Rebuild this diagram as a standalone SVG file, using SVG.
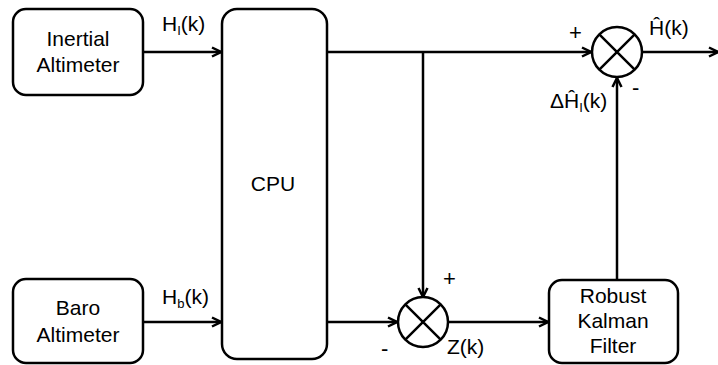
<svg xmlns="http://www.w3.org/2000/svg" width="718" height="365" viewBox="0 0 718 365">
<style>
.box{fill:#fff;stroke:#000;stroke-width:2.5}
.ln{fill:none;stroke:#000;stroke-width:2.5}
text{font-family:Arial,"Liberation Sans",sans-serif;font-size:21px;fill:#000}
.c{text-anchor:middle}
.sub{font-size:13px}
.sg{font-size:22px}
</style>
<defs>
<marker id="ah" viewBox="0 0 12 12" refX="11" refY="6" markerWidth="12" markerHeight="12" markerUnits="userSpaceOnUse" orient="auto">
<path d="M2,1.5 L11,6 L2,10.5" fill="none" stroke="#000" stroke-width="2.5"/>
</marker>
</defs>
<g id="connectors">
<path class="ln" d="M143,52 H221" marker-end="url(#ah)"/>
<path class="ln" d="M143,322 H221" marker-end="url(#ah)"/>
<path class="ln" d="M327,52 H591" marker-end="url(#ah)"/>
<path class="ln" d="M423,52 V297" marker-end="url(#ah)"/>
<path class="ln" d="M327,322 H397" marker-end="url(#ah)"/>
<path class="ln" d="M448,322 H548" marker-end="url(#ah)"/>
<path class="ln" d="M617,280 V78" marker-end="url(#ah)"/>
<path class="ln" d="M642,52 H718" marker-end="url(#ah)"/>
</g>
<g id="inertial">
<rect class="box" x="13" y="9" width="130" height="86" rx="13"/>
<text class="c" x="78" y="46">Inertial</text>
<text class="c" x="78" y="72">Altimeter</text>
</g>
<g id="baro">
<rect class="box" x="13" y="279" width="130" height="84" rx="13"/>
<text class="c" x="78" y="315">Baro</text>
<text class="c" x="78" y="342">Altimeter</text>
</g>
<g id="cpu">
<rect class="box" x="222" y="9" width="105" height="350" rx="15"/>
<text class="c" x="273" y="191">CPU</text>
</g>
<g id="kalman">
<rect class="box" x="549" y="280" width="129" height="83" rx="13"/>
<text class="c" x="613" y="303">Robust</text>
<text class="c" x="613" y="328">Kalman</text>
<text class="c" x="613" y="353">Filter</text>
</g>
<g id="sum-top">
<circle class="ln" cx="617" cy="52" r="25"/>
<path class="ln" d="M599.3,34.3 L634.7,69.7 M634.7,34.3 L599.3,69.7"/>
</g>
<g id="sum-bottom">
<circle class="ln" cx="423" cy="322" r="25"/>
<path class="ln" d="M405.3,304.3 L440.7,339.7 M440.7,304.3 L405.3,339.7"/>
</g>
<g id="labels">
<text x="162" y="31">H<tspan class="sub" dy="4">I</tspan><tspan dy="-4">(k)</tspan></text>
<text x="162" y="304">H<tspan class="sub" dy="4">b</tspan><tspan dy="-4">(k)</tspan></text>
<text class="sg" x="569" y="40">+</text>
<text x="649" y="35">Ĥ(k)</text>
<text class="sg" x="632" y="95">-</text>
<text x="550" y="108">ΔĤ<tspan class="sub" dy="4">I</tspan><tspan dy="-4">(k)</tspan></text>
<text class="sg" x="443" y="286">+</text>
<text class="sg" x="381" y="356">-</text>
<text x="447" y="354">Z(k)</text>
</g>
</svg>
